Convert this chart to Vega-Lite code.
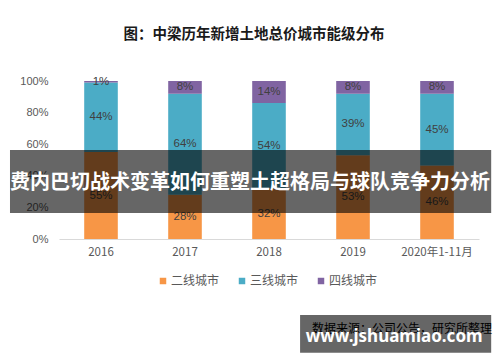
{
  "$schema": "https://vega.github.io/schema/vega-lite/v6.json",
  "width": 420,
  "height": 158,
  "autosize": {"type": "none"},
  "padding": {"left": 59, "top": 81, "right": 21, "bottom": 123},
  "background": "white",
  "title": {
    "text": "图：中梁历年新增土地总价城市能级分布",
    "font": "Noto Sans CJK SC",
    "fontSize": 14.5,
    "fontWeight": "bold",
    "color": "#1a1a1a",
    "anchor": "middle",
    "frame": "group",
    "dx": -15,
    "offset": 33
  },
  "config": {
    "view": {"stroke": null},
    "font": "Noto Sans CJK SC",
    "axisX": {"labelAngle": 0, "ticks": false, "domainColor": "#d9d9d9", "domainWidth": 1, "labelColor": "#595959", "labelFontSize": 11.5, "labelFont": "Noto Sans CJK SC", "labelPadding": 7, "grid": false},
    "axisY": {"tickCount": 5, "format": ".0%", "grid": false, "domain": false, "ticks": false, "labelOverlap": false, "labelColor": "#595959", "labelFontSize": 11, "labelFont": "Liberation Sans", "labelPadding": 11}
  },
  "layer": [
    {
      "data": {
        "values": [
          {"year": "2016", "city": "二线城市", "o": 1, "v": 0.55},
          {"year": "2016", "city": "三线城市", "o": 2, "v": 0.44},
          {"year": "2016", "city": "四线城市", "o": 3, "v": 0.01},
          {"year": "2017", "city": "二线城市", "o": 1, "v": 0.28},
          {"year": "2017", "city": "三线城市", "o": 2, "v": 0.64},
          {"year": "2017", "city": "四线城市", "o": 3, "v": 0.08},
          {"year": "2018", "city": "二线城市", "o": 1, "v": 0.32},
          {"year": "2018", "city": "三线城市", "o": 2, "v": 0.54},
          {"year": "2018", "city": "四线城市", "o": 3, "v": 0.14},
          {"year": "2019", "city": "二线城市", "o": 1, "v": 0.53},
          {"year": "2019", "city": "三线城市", "o": 2, "v": 0.39},
          {"year": "2019", "city": "四线城市", "o": 3, "v": 0.08},
          {"year": "2020年1-11月", "city": "二线城市", "o": 1, "v": 0.46},
          {"year": "2020年1-11月", "city": "三线城市", "o": 2, "v": 0.45},
          {"year": "2020年1-11月", "city": "四线城市", "o": 3, "v": 0.08}
        ]
      },
      "transform": [
        {"stack": "v", "groupby": ["year"], "sort": [{"field": "o", "order": "ascending"}], "offset": "normalize", "as": ["v0", "v1"]}
      ],
      "layer": [
        {
          "mark": {"type": "bar"},
          "encoding": {
            "x": {
              "field": "year", "type": "nominal", "title": null, "sort": ["2016", "2017", "2018", "2019", "2020年1-11月"],
              "scale": {"paddingInner": 0.6, "paddingOuter": 0.3}
            },
            "y": {
              "field": "v0", "type": "quantitative", "title": null,
              "scale": {"domain": [0, 1], "nice": false}
            },
            "y2": {"field": "v1"},
            "color": {
              "field": "city", "type": "nominal",
              "scale": {"domain": ["二线城市", "三线城市", "四线城市"], "range": ["#F79646", "#4BACC6", "#8064A2"]},
              "legend": {"title": null, "orient": "none", "legendX": 98, "legendY": 194, "direction": "horizontal", "symbolType": "square", "symbolSize": 42, "symbolStrokeWidth": 0, "labelColor": "#595959", "labelFontSize": 12, "labelFont": "Noto Sans CJK SC", "labelOffset": 2, "columnPadding": 16}
            }
          }
        },
        {
          "transform": [
            {"fold": ["v0", "v1"], "as": ["edge", "pos"]},
            {"aggregate": [{"op": "mean", "field": "pos", "as": "mid"}], "groupby": ["year", "city", "v"]}
          ],
          "mark": {"type": "text", "fontSize": 11.5, "font": "Liberation Sans", "color": "#404040", "baseline": "middle"},
          "encoding": {
            "x": {"field": "year", "type": "nominal", "title": null, "sort": ["2016", "2017", "2018", "2019", "2020年1-11月"]},
            "y": {"field": "mid", "type": "quantitative", "title": null},
            "text": {"field": "v", "type": "quantitative", "format": ".0%"}
          }
        }
      ]
    },
    {
      "data": {"values": [{}]},
      "mark": {"type": "rect", "fill": "#000000", "opacity": 0.6},
      "encoding": {
        "x": {"datum": -0.1167, "type": "quantitative", "scale": {"domain": [0, 1]}, "axis": null},
        "x2": {"datum": 1.029},
        "y": {"datum": 0.1646, "type": "quantitative", "scale": {"domain": [0, 1]}, "axis": null},
        "y2": {"datum": 0.563}
      }
    },
    {
      "data": {"values": [{}]},
      "mark": {"type": "text", "text": "费内巴切战术变革如何重塑土超格局与球队竞争力分析", "font": "Noto Sans CJK SC", "fontSize": 20, "fontWeight": "bold", "fill": "#ffffff", "align": "center", "baseline": "middle"},
      "encoding": {
        "x": {"datum": 0.455, "type": "quantitative", "scale": {"domain": [0, 1]}, "axis": null},
        "y": {"datum": 0.354, "type": "quantitative", "scale": {"domain": [0, 1]}, "axis": null}
      }
    },
    {
      "data": {"values": [{}]},
      "mark": {"type": "text", "text": "数据来源：公司公告，研究所整理", "font": "Noto Sans CJK SC", "fontSize": 12, "fill": "#000000", "align": "right", "baseline": "middle"},
      "encoding": {
        "x": {"datum": 1.031, "type": "quantitative", "scale": {"domain": [0, 1]}, "axis": null},
        "y": {"datum": -0.57, "type": "quantitative", "scale": {"domain": [0, 1]}, "axis": null}
      }
    },
    {
      "data": {"values": [{}]},
      "mark": {"type": "rect", "fill": "#000000", "opacity": 0.6},
      "encoding": {
        "x": {"datum": 0.574, "type": "quantitative", "scale": {"domain": [0, 1]}, "axis": null},
        "x2": {"datum": 1.029},
        "y": {"datum": -0.481, "type": "quantitative", "scale": {"domain": [0, 1]}, "axis": null},
        "y2": {"datum": -0.72}
      }
    },
    {
      "data": {"values": [{}]},
      "mark": {"type": "text", "text": "www.jshuamiao.com", "font": "Noto Sans", "fontSize": 17, "fontWeight": "bold", "fill": "#ffffff", "align": "center", "baseline": "middle"},
      "encoding": {
        "x": {"datum": 0.798, "type": "quantitative", "scale": {"domain": [0, 1]}, "axis": null},
        "y": {"datum": -0.62, "type": "quantitative", "scale": {"domain": [0, 1]}, "axis": null}
      }
    }
  ],
  "resolve": {"scale": {"x": "independent", "y": "independent"}}
}
